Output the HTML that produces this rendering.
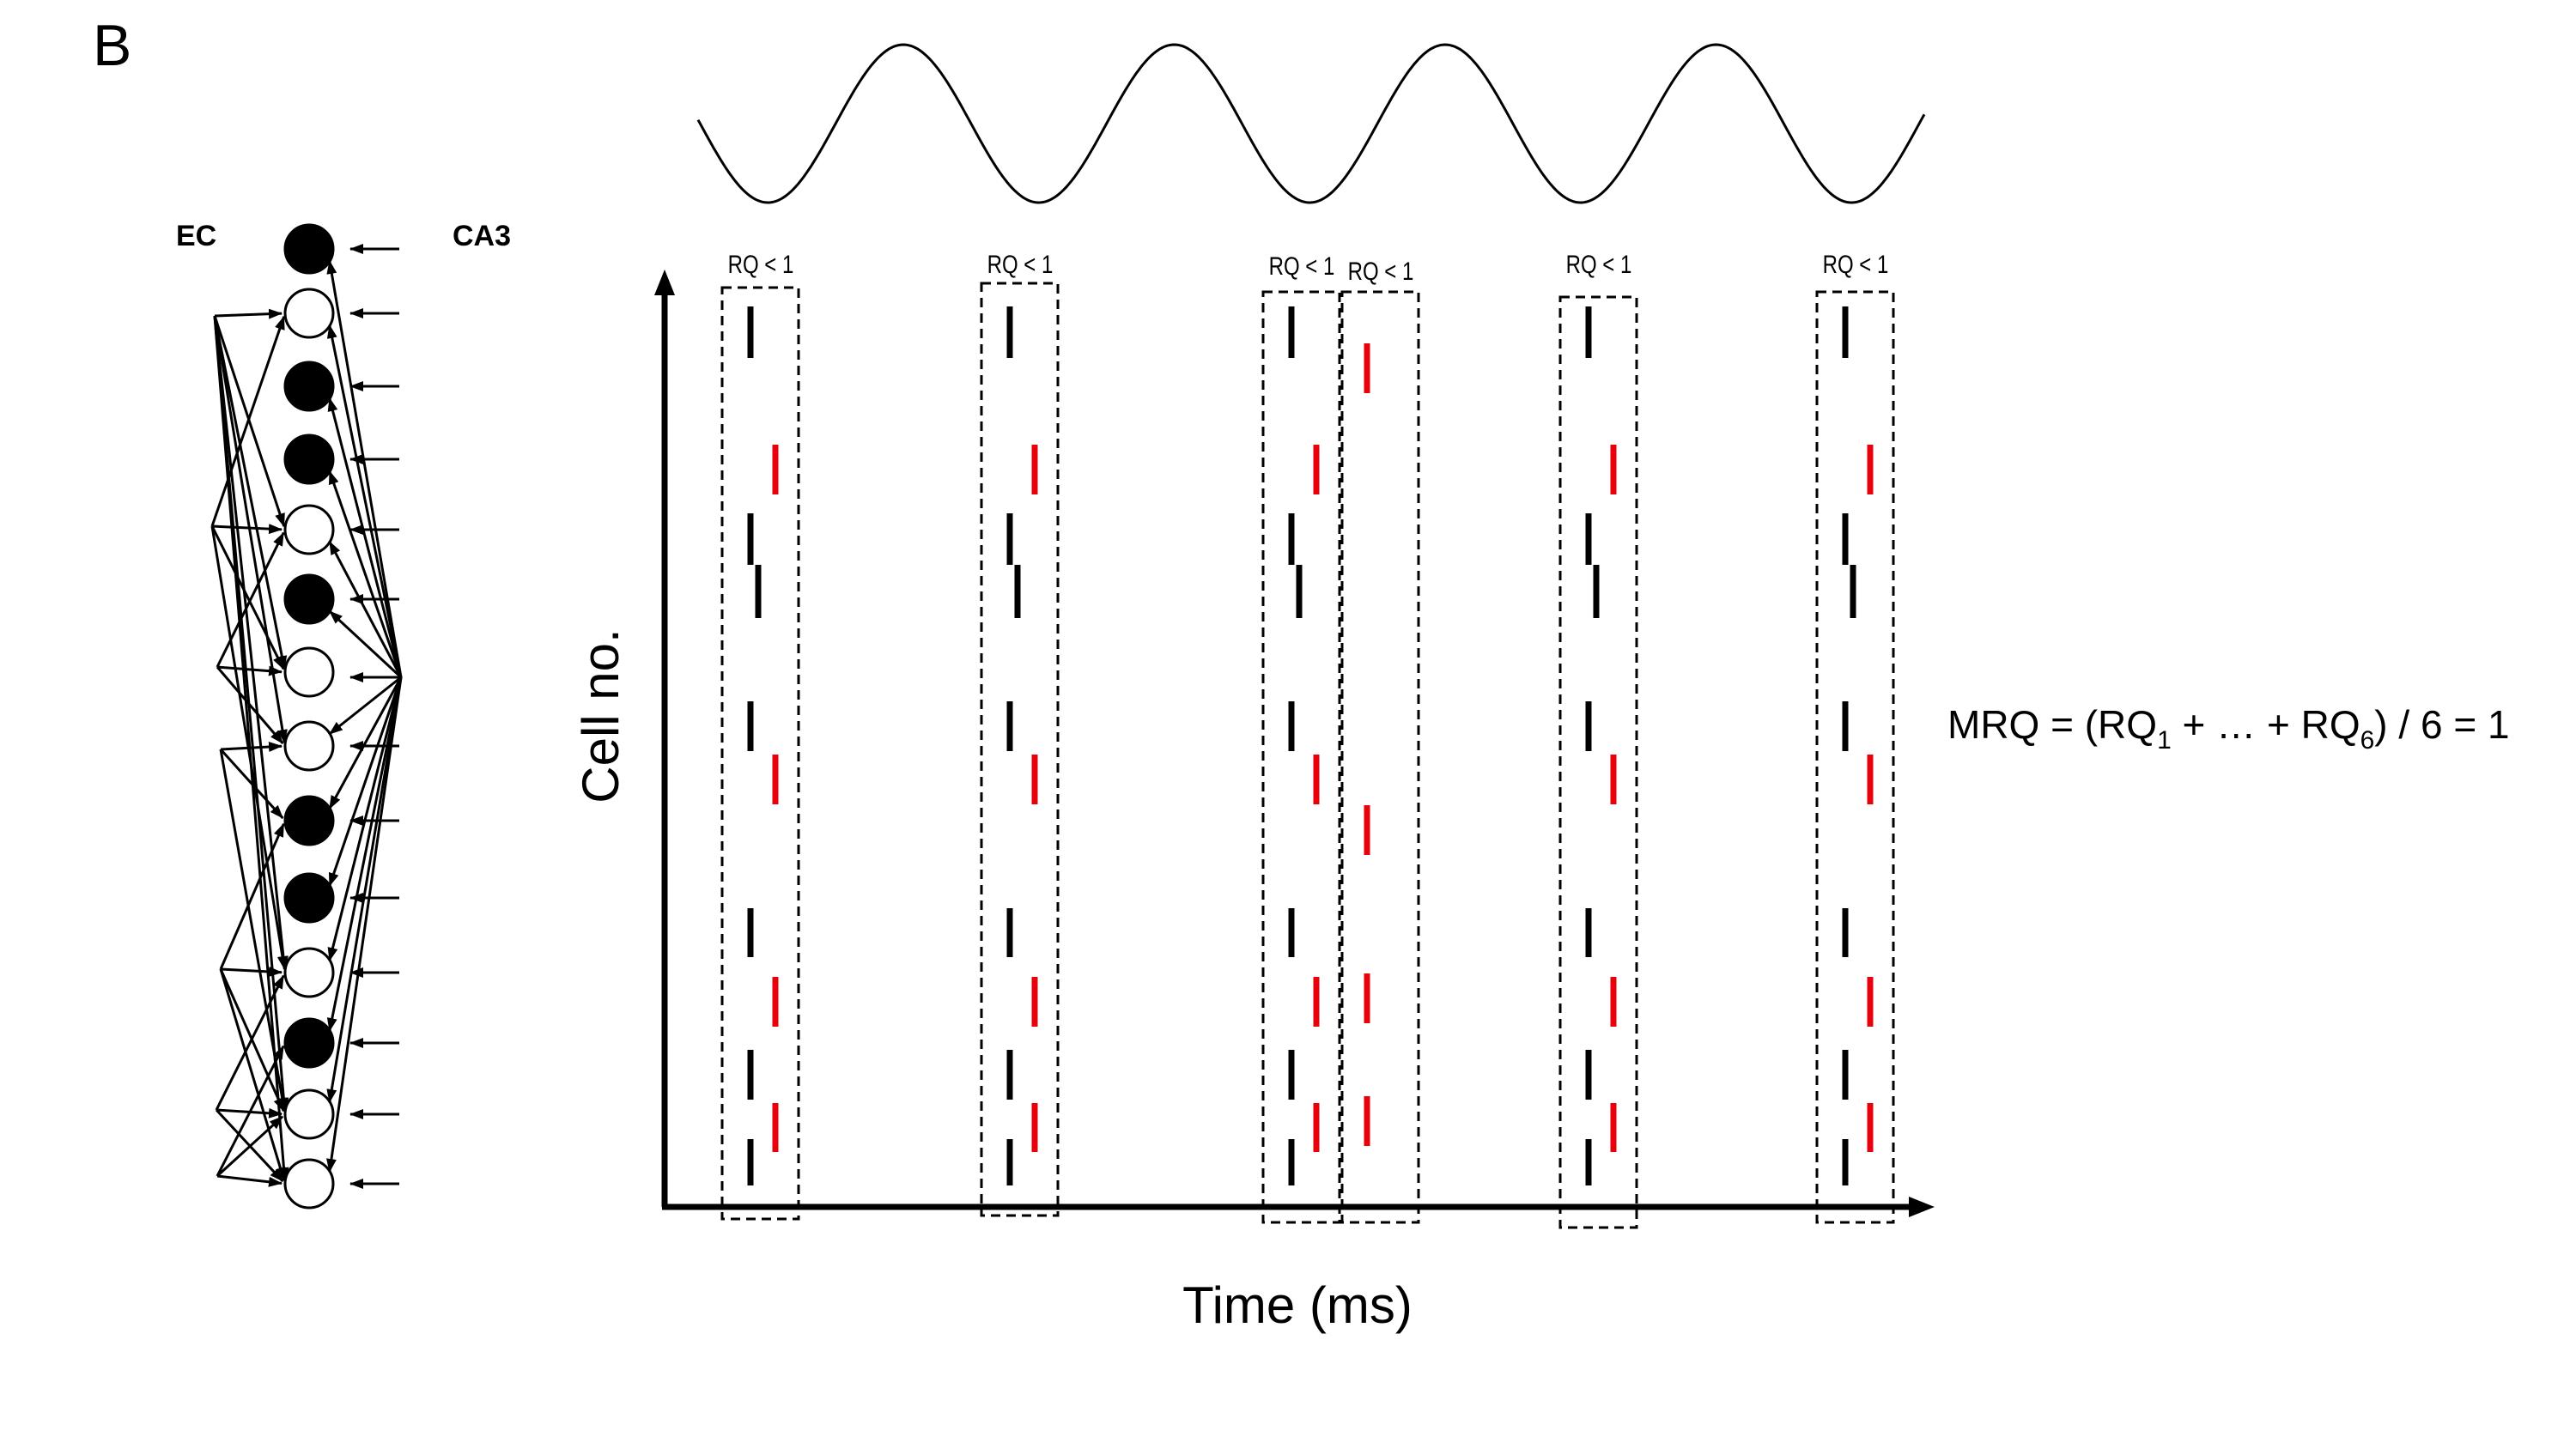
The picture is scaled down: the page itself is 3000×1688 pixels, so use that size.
<!DOCTYPE html>
<html><head><meta charset="utf-8">
<style>
html,body{margin:0;padding:0;background:#fff;}
svg{display:block;}
text{font-family:"Liberation Sans",sans-serif;}
</style></head>
<body>
<svg id="s" width="3000" height="1688" viewBox="0 0 3000 1688" xmlns="http://www.w3.org/2000/svg">
<defs>
<marker id="ah2" markerWidth="16" markerHeight="12" refX="15" refY="6" orient="auto" markerUnits="userSpaceOnUse">
<path d="M0,0 L16,6 L0,12 z" fill="#000"/></marker>
</defs>
<text x="108" y="76" font-size="68">B</text>
<text x="205" y="286" font-size="34" font-weight="bold">EC</text>
<text x="527" y="286" font-size="34" font-weight="bold">CA3</text>
<g id="net"></g>
<polyline id="sine" fill="none" stroke="#000" stroke-width="3"/>
<!-- axes -->
<line x1="774" y1="1406" x2="774" y2="340" stroke="#000" stroke-width="7"/>
<path d="M774,314 L762,344 L786,344 z" fill="#000"/>
<line x1="771" y1="1406" x2="2228" y2="1406" stroke="#000" stroke-width="7"/>
<path d="M2253,1406 L2223,1394 L2223,1418 z" fill="#000"/>
<g id="boxes"></g>
<text transform="translate(720,834) rotate(-90)" font-size="60" text-anchor="middle">Cell no.</text>
<text x="1511" y="1541" font-size="60" text-anchor="middle">Time (ms)</text>
<text x="2268" y="860" font-size="46">MRQ = (RQ<tspan font-size="30" dy="12">1</tspan><tspan dy="-12"> + … + RQ</tspan><tspan font-size="30" dy="12">6</tspan><tspan dy="-12">) / 6 = 1</tspan></text>
</svg>
<script>
var NS="http://www.w3.org/2000/svg";
function el(p,t,a){var e=document.createElementNS(NS,t);for(var k in a)e.setAttribute(k,a[k]);p.appendChild(e);return e;}
var pts=[];for(var x=813;x<=2243;x+=3){var y=144-92*Math.cos(2*Math.PI*(x-1052)/315.5);pts.push(x+","+y.toFixed(1));}
document.getElementById("sine").setAttribute("points",pts.join(" "));
var B=document.getElementById("boxes");
var boxes=[[841,335,1420],[1143,330,1416],[1471,340,1424],[1563,340,1424],[1817,346,1430],[2116,340,1424]];
var labY=[308,308,310,316,308,308];
var blackRows=[[357,417],[598,658],[658,720],[817,875],[1058,1115],[1223,1281],[1327,1381]];
var redRows=[[518,576],[879,937],[1138,1196],[1285,1342]];
boxes.forEach(function(b,i){
  el(B,"rect",{x:b[0],y:b[1],width:89,height:b[2]-b[1],fill:"none",stroke:"#000","stroke-width":3,"stroke-dasharray":"11 7"});
  var t=el(B,"text",{x:b[0]+45,y:labY[i]+10,"font-size":30,"text-anchor":"middle",transform:"translate("+(b[0]+45)+",0) scale(0.8,1) translate("+(-(b[0]+45))+",0)"});
  t.textContent="RQ < 1";
  if(i==3){
    [[400,458],[938,996],[1134,1192],[1277,1335]].forEach(function(r){el(B,"line",{x1:b[0]+29,x2:b[0]+29,y1:r[0],y2:r[1],stroke:"#e8000b","stroke-width":7});});
    return;
  }
  blackRows.forEach(function(r,j){var dx=(j==2)?42:33; el(B,"line",{x1:b[0]+dx,x2:b[0]+dx,y1:r[0],y2:r[1],stroke:"#000","stroke-width":7});});
  redRows.forEach(function(r){el(B,"line",{x1:b[0]+62,x2:b[0]+62,y1:r[0],y2:r[1],stroke:"#e8000b","stroke-width":7});});
});
var N=document.getElementById("net");
var ny=[290,365,450,535,617,698,783,869,956,1046,1133,1215,1298,1379];
var fill=[1,0,1,1,0,1,0,0,1,1,0,1,0,0];
var nx=360,r=28,hub=[467,789];
var srcs=[[250,368,[1,4,6,7,10,12,13]],[247,613,[1,4,6,10]],[253,777,[4,6,7]],[257,873,[7,8,12]],[257,1129,[8,10,12,13]],[252,1293,[10,12,13]],[253,1370,[11,12,13]]];
srcs.forEach(function(s){s[2].forEach(function(k){
  var tx=nx-r, ty=ny[k]; var dx=tx-s[0],dy=ty-s[1],L=Math.hypot(dx,dy);
  el(N,"line",{x1:s[0],y1:s[1],x2:tx-dx/L*4,y2:ty-dy/L*4,stroke:"#000","stroke-width":3,"marker-end":"url(#ah2)"});
});});
ny.forEach(function(y,k){
  if(k==6) return;
  var tx=nx+r*0.85, ty=y+(y<hub[1]?r*0.5:-r*0.5);
  el(N,"line",{x1:hub[0],y1:hub[1],x2:tx,y2:ty,stroke:"#000","stroke-width":3,"marker-end":"url(#ah2)"});
});
el(N,"line",{x1:hub[0],y1:hub[1],x2:408,y2:789,stroke:"#000","stroke-width":3,"marker-end":"url(#ah2)"});
ny.forEach(function(y,k){ if(k==6)return; el(N,"line",{x1:465,y1:y,x2:408,y2:y,stroke:"#000","stroke-width":3,"marker-end":"url(#ah2)"});});
ny.forEach(function(y,k){el(N,"ellipse",{cx:nx,cy:y,rx:r,ry:r,fill:fill[k]?"#000":"#fff",stroke:"#000","stroke-width":3});});
</script>
</body></html>
